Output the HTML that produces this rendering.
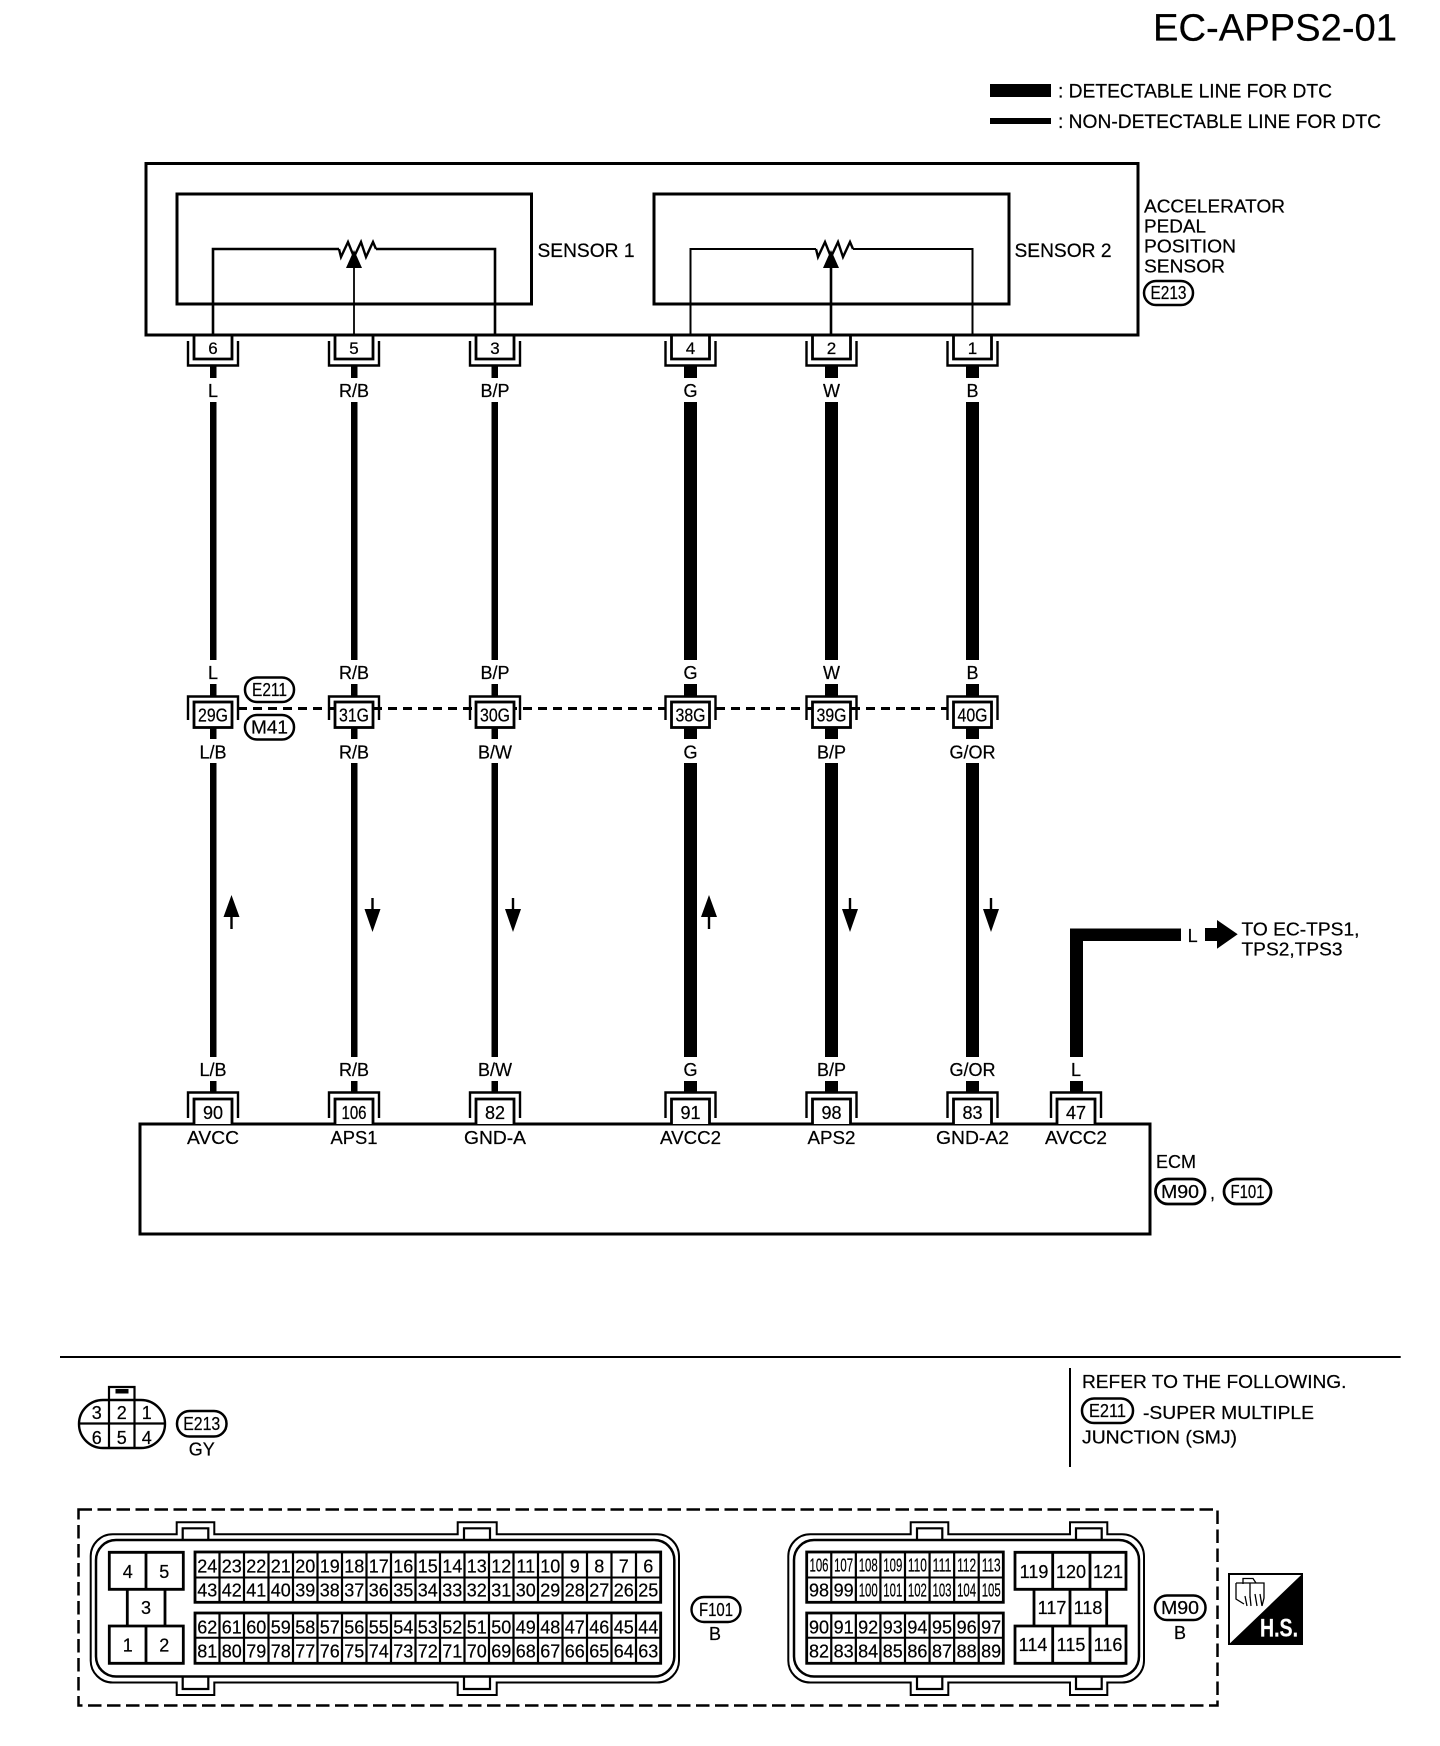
<!DOCTYPE html>
<html><head><meta charset="utf-8"><title>EC-APPS2-01</title>
<style>
html,body{margin:0;padding:0;background:#fff}
svg{display:block}
text{font-family:"Liberation Sans",Arial,sans-serif;fill:#000;stroke:#000;stroke-width:.22px}
.m{text-anchor:middle}
.f18{font-size:18px}.f17{font-size:17px}.f19{font-size:19px}
</style></head><body>
<svg width="1440" height="1746" viewBox="0 0 1440 1746" xmlns="http://www.w3.org/2000/svg">
<defs>
<g id="pt" fill="none" stroke="#000"><path d="M-19 335V359H19V335" stroke-width="2.8"/><path d="M-25 341V365.5H25V341" stroke-width="2.4"/></g>
<g id="pm" fill="none" stroke="#000"><rect x="-19" y="702" width="38" height="25.5" fill="#fff" stroke-width="2.8"/><path d="M-25 720V696.5H25V720" stroke-width="2.4"/></g>
<g id="pb" fill="none" stroke="#000"><path d="M-19 1124V1099H19V1124" fill="#fff" stroke-width="2.8"/><path d="M-25 1118V1092.5H25V1118" stroke-width="2.4"/></g>
<g id="res"><polyline points="339,249 341,257 348,242 354,257 361,242 366,257 373,242 376,249" fill="none" stroke="#000" stroke-width="2.4"/><polygon points="354,250 346,268 362,268" fill="#000"/></g>
<path id="aup" d="M-1.2 34V22H-8L0 0L8 22H1.2V34Z" fill="#000"/>
<path id="adn" d="M-1.2 0V11H-8L0 34L8 11H1.2V0Z" fill="#000"/>
</defs>

<!-- title + legend -->
<text x="1153" y="40.5" font-size="38" textLength="244" lengthAdjust="spacingAndGlyphs">EC-APPS2-01</text>
<rect x="990" y="84" width="61" height="13"/>
<rect x="990" y="118" width="61" height="6"/>
<text class="f19" x="1058" y="97.5" textLength="274" lengthAdjust="spacingAndGlyphs">: DETECTABLE LINE FOR DTC</text>
<text class="f19" x="1058" y="128" textLength="323" lengthAdjust="spacingAndGlyphs">: NON-DETECTABLE LINE FOR DTC</text>

<!-- sensor box -->
<rect x="146" y="163.5" width="992" height="171.5" fill="none" stroke="#000" stroke-width="3"/>
<rect x="177" y="194" width="354.5" height="110" fill="none" stroke="#000" stroke-width="3"/>
<rect x="654" y="194" width="355" height="110" fill="none" stroke="#000" stroke-width="3"/>
<path d="M213 335V249H339M376 249H495V335" fill="none" stroke="#000" stroke-width="2.6"/>
<path d="M354 335V262" fill="none" stroke="#000" stroke-width="1.8"/>
<use href="#res"/>
<path d="M690.5 335V249H816M853 249H972.5V335" fill="none" stroke="#000" stroke-width="2"/>
<path d="M831 335V262" fill="none" stroke="#000" stroke-width="2.6"/>
<use href="#res" x="477"/>
<text class="f19" x="537.5" y="257" textLength="97" lengthAdjust="spacingAndGlyphs">SENSOR 1</text>
<text class="f19" x="1014.5" y="257" textLength="97" lengthAdjust="spacingAndGlyphs">SENSOR 2</text>
<text class="f18" x="1144" y="212.5" textLength="141" lengthAdjust="spacingAndGlyphs">ACCELERATOR</text>
<text class="f18" x="1144" y="232.5" textLength="62" lengthAdjust="spacingAndGlyphs">PEDAL</text>
<text class="f18" x="1144" y="252.5" textLength="92" lengthAdjust="spacingAndGlyphs">POSITION</text>
<text class="f18" x="1144" y="272.5" textLength="81" lengthAdjust="spacingAndGlyphs">SENSOR</text>
<rect x="1144" y="281" width="49" height="24" rx="12" fill="#fff" stroke="#000" stroke-width="2.5"/>
<text class="f18 m" x="1168.5" y="299" textLength="36" lengthAdjust="spacingAndGlyphs">E213</text>

<!-- wires -->
<g fill="#000">
<rect x="210" y="366" width="6.5" height="12"/><rect x="210" y="402" width="6.5" height="258"/><rect x="210" y="684" width="6.5" height="12"/><rect x="210" y="727" width="6.5" height="12"/><rect x="210" y="763" width="6.5" height="294"/><rect x="210" y="1081" width="6.5" height="11"/>
<rect x="351" y="366" width="6.5" height="12"/><rect x="351" y="402" width="6.5" height="258"/><rect x="351" y="684" width="6.5" height="12"/><rect x="351" y="727" width="6.5" height="12"/><rect x="351" y="763" width="6.5" height="294"/><rect x="351" y="1081" width="6.5" height="11"/>
<rect x="491.5" y="366" width="6.5" height="12"/><rect x="491.5" y="402" width="6.5" height="258"/><rect x="491.5" y="684" width="6.5" height="12"/><rect x="491.5" y="727" width="6.5" height="12"/><rect x="491.5" y="763" width="6.5" height="294"/><rect x="491.5" y="1081" width="6.5" height="11"/>
<rect x="684" y="366" width="13" height="12"/><rect x="684" y="402" width="13" height="258"/><rect x="684" y="684" width="13" height="12"/><rect x="684" y="727" width="13" height="12"/><rect x="684" y="763" width="13" height="294"/><rect x="684" y="1081" width="13" height="11"/>
<rect x="825" y="366" width="13" height="12"/><rect x="825" y="402" width="13" height="258"/><rect x="825" y="684" width="13" height="12"/><rect x="825" y="727" width="13" height="12"/><rect x="825" y="763" width="13" height="294"/><rect x="825" y="1081" width="13" height="11"/>
<rect x="966" y="366" width="13" height="12"/><rect x="966" y="402" width="13" height="258"/><rect x="966" y="684" width="13" height="12"/><rect x="966" y="727" width="13" height="12"/><rect x="966" y="763" width="13" height="294"/><rect x="966" y="1081" width="13" height="11"/>
<rect x="1070" y="1081" width="13" height="11"/>
<path d="M1070 1057V928.5H1181V941H1083V1057Z"/>
<path d="M1205 928H1217V920L1237.7 934.3L1217 948.7V941H1205Z"/>
</g>
<text class="f18 m" x="1192.6" y="942">L</text>
<text class="f18" x="1241.5" y="935.5" textLength="118" lengthAdjust="spacingAndGlyphs">TO EC-TPS1,</text>
<text class="f18" x="1241.5" y="955.5" textLength="101" lengthAdjust="spacingAndGlyphs">TPS2,TPS3</text>

<!-- top connectors -->
<use href="#pt" x="213"/><use href="#pt" x="354"/><use href="#pt" x="495"/><use href="#pt" x="690.5"/><use href="#pt" x="831.5"/><use href="#pt" x="972.5"/>
<g class="f17 m">
<text x="213" y="354">6</text><text x="354" y="354">5</text><text x="495" y="354">3</text><text x="690.5" y="354">4</text><text x="831.5" y="354">2</text><text x="972.5" y="354">1</text>
</g>
<g class="f18 m">
<text x="213" y="397">L</text><text x="354" y="397">R/B</text><text x="495" y="397">B/P</text><text x="690.5" y="397">G</text><text x="831.5" y="397">W</text><text x="972.5" y="397">B</text>
<text x="213" y="679">L</text><text x="354" y="679">R/B</text><text x="495" y="679">B/P</text><text x="690.5" y="679">G</text><text x="831.5" y="679">W</text><text x="972.5" y="679">B</text>
<text x="213" y="758.5">L/B</text><text x="354" y="758.5">R/B</text><text x="495" y="758.5">B/W</text><text x="690.5" y="758.5">G</text><text x="831.5" y="758.5">B/P</text><text x="972.5" y="758.5">G/OR</text>
<text x="213" y="1076">L/B</text><text x="354" y="1076">R/B</text><text x="495" y="1076">B/W</text><text x="690.5" y="1076">G</text><text x="831.5" y="1076">B/P</text><text x="972.5" y="1076">G/OR</text><text x="1076" y="1076">L</text>
</g>

<!-- middle connectors + dashed link -->
<path d="M238 708.5H665" fill="none" stroke="#000" stroke-width="3" stroke-dasharray="9 6"/>
<path d="M716 708.5H947" fill="none" stroke="#000" stroke-width="3" stroke-dasharray="9 6"/>
<use href="#pm" x="213"/><use href="#pm" x="354"/><use href="#pm" x="495"/><use href="#pm" x="690.5"/><use href="#pm" x="831.5"/><use href="#pm" x="972.5"/>
<g class="f18 m">
<text x="213" y="721.5" textLength="30" lengthAdjust="spacingAndGlyphs">29G</text>
<text x="354" y="721.5" textLength="30" lengthAdjust="spacingAndGlyphs">31G</text>
<text x="495" y="721.5" textLength="30" lengthAdjust="spacingAndGlyphs">30G</text>
<text x="690.5" y="721.5" textLength="30" lengthAdjust="spacingAndGlyphs">38G</text>
<text x="831.5" y="721.5" textLength="30" lengthAdjust="spacingAndGlyphs">39G</text>
<text x="972.5" y="721.5" textLength="30" lengthAdjust="spacingAndGlyphs">40G</text>
</g>
<rect x="245" y="677.5" width="49" height="24.5" rx="12" fill="#fff" stroke="#000" stroke-width="2.5"/>
<text class="f18 m" x="269.5" y="696" textLength="35" lengthAdjust="spacingAndGlyphs">E211</text>
<rect x="245" y="715" width="49" height="24.5" rx="12" fill="#fff" stroke="#000" stroke-width="2.5"/>
<text class="f18 m" x="269.5" y="733.5" textLength="37" lengthAdjust="spacingAndGlyphs">M41</text>

<!-- direction arrows -->
<use href="#aup" x="231.5" y="895"/><use href="#adn" x="372.5" y="898"/><use href="#adn" x="513" y="898"/><use href="#aup" x="709" y="895"/><use href="#adn" x="850" y="898"/><use href="#adn" x="991" y="898"/>

<!-- ECM -->
<rect x="140" y="1124" width="1010" height="110" fill="none" stroke="#000" stroke-width="3"/>
<use href="#pb" x="213"/><use href="#pb" x="354"/><use href="#pb" x="495"/><use href="#pb" x="690.5"/><use href="#pb" x="831.5"/><use href="#pb" x="972.5"/><use href="#pb" x="1076"/>
<g class="f18 m">
<text x="213" y="1119">90</text>
<text x="354" y="1119" textLength="25" lengthAdjust="spacingAndGlyphs">106</text>
<text x="495" y="1119">82</text><text x="690.5" y="1119">91</text><text x="831.5" y="1119">98</text><text x="972.5" y="1119">83</text><text x="1076" y="1119">47</text>
<text x="213" y="1144" textLength="52" lengthAdjust="spacingAndGlyphs">AVCC</text>
<text x="354" y="1144" textLength="47" lengthAdjust="spacingAndGlyphs">APS1</text>
<text x="495" y="1144" textLength="62" lengthAdjust="spacingAndGlyphs">GND-A</text>
<text x="690.5" y="1144" textLength="61" lengthAdjust="spacingAndGlyphs">AVCC2</text>
<text x="831.5" y="1144" textLength="48" lengthAdjust="spacingAndGlyphs">APS2</text>
<text x="972.5" y="1144" textLength="73" lengthAdjust="spacingAndGlyphs">GND-A2</text>
<text x="1076" y="1144" textLength="62" lengthAdjust="spacingAndGlyphs">AVCC2</text>
</g>
<text class="f18" x="1156" y="1168">ECM</text>
<rect x="1155.5" y="1179" width="49.5" height="25" rx="12.5" fill="#fff" stroke="#000" stroke-width="2.8"/>
<text class="f18 m" x="1180" y="1198" textLength="38" lengthAdjust="spacingAndGlyphs">M90</text>
<text class="f18" x="1210" y="1199">,</text>
<rect x="1224" y="1179" width="47" height="25" rx="12.5" fill="#fff" stroke="#000" stroke-width="2.8"/>
<text class="f18 m" x="1247.5" y="1198" textLength="34" lengthAdjust="spacingAndGlyphs">F101</text>

<!-- separator -->
<rect x="60" y="1356" width="1340.7" height="2"/>
<rect x="1069" y="1368" width="2" height="99"/>
<text class="f18" x="1082" y="1388" textLength="264.5" lengthAdjust="spacingAndGlyphs">REFER TO THE FOLLOWING.</text>
<rect x="1082" y="1398.5" width="51" height="24.5" rx="12" fill="#fff" stroke="#000" stroke-width="2.5"/>
<text class="f18 m" x="1107.5" y="1417" textLength="37" lengthAdjust="spacingAndGlyphs">E211</text>
<text class="f18" x="1143" y="1419" textLength="171" lengthAdjust="spacingAndGlyphs">-SUPER MULTIPLE</text>
<text class="f18" x="1082" y="1443.5" textLength="155" lengthAdjust="spacingAndGlyphs">JUNCTION (SMJ)</text>

<!-- E213 connector -->
<rect x="79" y="1400" width="86" height="48" rx="24" fill="#fff" stroke="#000" stroke-width="2.4"/>
<path d="M79 1423.5H165M109 1400V1448M134.5 1400V1448M109 1400V1387H134.5V1400" fill="none" stroke="#000" stroke-width="2.2"/>
<rect x="115.5" y="1389" width="13" height="4.5"/>
<g class="f18 m">
<text x="96.7" y="1419">3</text><text x="121.7" y="1419">2</text><text x="146.7" y="1419">1</text>
<text x="96.7" y="1444">6</text><text x="121.7" y="1444">5</text><text x="146.7" y="1444">4</text>
</g>
<rect x="177" y="1411" width="49.5" height="25.5" rx="12.5" fill="#fff" stroke="#000" stroke-width="2.5"/>
<text class="f18 m" x="201.7" y="1430" textLength="37" lengthAdjust="spacingAndGlyphs">E213</text>
<text class="f18 m" x="201.7" y="1455.5">GY</text>

<!-- dashed frame -->
<rect x="78.5" y="1509.5" width="1139" height="196" fill="none" stroke="#000" stroke-width="2.5" stroke-dasharray="13.5 5.5"/>

<!-- F101 connector -->
<path d="M176.7 1534.3V1522.3H214.3V1534.3H457.7V1522.3H496.7V1534.3H657A22 22 0 0 1 679 1556V1660A22 22 0 0 1 657 1682.5H496.7V1695H457.7V1682.5H214.3V1695H176.7V1682.5H112.7A22 22 0 0 1 90.7 1660V1556A22 22 0 0 1 112.7 1534.3Z" fill="none" stroke="#000" stroke-width="2"/>
<rect x="96" y="1540" width="578.3" height="136.5" rx="20" fill="none" stroke="#000" stroke-width="2.5"/>
<path d="M182.7 1540V1528.3H208.3V1540M464 1540V1528.3H490V1540M182.7 1676.5V1689H208.3V1676.5M464 1676.5V1689H490V1676.5" fill="none" stroke="#000" stroke-width="2.2"/>
<g fill="none" stroke="#000" stroke-width="2.8">
<path d="M109.3 1552.3H183.3V1589.3H109.3ZM146 1552.3V1589.3M127.3 1589.3V1626M165 1589.3V1626M109.3 1626H183.3V1663.3H109.3ZM146 1626V1663.3"/>
<rect x="195" y="1552" width="465.7" height="50.3"/>
<rect x="195" y="1613" width="465.7" height="50.3"/>
<path d="M195 1577.5H660.7M195 1637.7H660.7" stroke-width="2"/>
<line x1="195" y1="1577" x2="660.7" y2="1577" stroke-width="50" stroke-dasharray="2.2 22.3" stroke-dashoffset="-23.4"/>
<line x1="195" y1="1638" x2="660.7" y2="1638" stroke-width="50" stroke-dasharray="2.2 22.3" stroke-dashoffset="-23.4"/>
</g>
<g class="f18 m">
<text x="127.7" y="1578">4</text><text x="164.3" y="1578">5</text><text x="146" y="1614">3</text><text x="127.7" y="1651.5">1</text><text x="164.3" y="1651.5">2</text>
</g>
<g class="f18 m">
<text x="207.25" y="1572.5">24</text><text x="231.75" y="1572.5">23</text><text x="256.25" y="1572.5">22</text><text x="280.75" y="1572.5">21</text><text x="305.25" y="1572.5">20</text><text x="329.75" y="1572.5">19</text><text x="354.25" y="1572.5">18</text><text x="378.75" y="1572.5">17</text><text x="403.25" y="1572.5">16</text><text x="427.75" y="1572.5">15</text><text x="452.25" y="1572.5">14</text><text x="476.75" y="1572.5">13</text><text x="501.25" y="1572.5">12</text><text x="525.75" y="1572.5">11</text><text x="550.25" y="1572.5">10</text><text x="574.75" y="1572.5">9</text><text x="599.25" y="1572.5">8</text><text x="623.75" y="1572.5">7</text><text x="648.25" y="1572.5">6</text>
<text x="207.25" y="1596.5">43</text><text x="231.75" y="1596.5">42</text><text x="256.25" y="1596.5">41</text><text x="280.75" y="1596.5">40</text><text x="305.25" y="1596.5">39</text><text x="329.75" y="1596.5">38</text><text x="354.25" y="1596.5">37</text><text x="378.75" y="1596.5">36</text><text x="403.25" y="1596.5">35</text><text x="427.75" y="1596.5">34</text><text x="452.25" y="1596.5">33</text><text x="476.75" y="1596.5">32</text><text x="501.25" y="1596.5">31</text><text x="525.75" y="1596.5">30</text><text x="550.25" y="1596.5">29</text><text x="574.75" y="1596.5">28</text><text x="599.25" y="1596.5">27</text><text x="623.75" y="1596.5">26</text><text x="648.25" y="1596.5">25</text>
<text x="207.25" y="1633.5">62</text><text x="231.75" y="1633.5">61</text><text x="256.25" y="1633.5">60</text><text x="280.75" y="1633.5">59</text><text x="305.25" y="1633.5">58</text><text x="329.75" y="1633.5">57</text><text x="354.25" y="1633.5">56</text><text x="378.75" y="1633.5">55</text><text x="403.25" y="1633.5">54</text><text x="427.75" y="1633.5">53</text><text x="452.25" y="1633.5">52</text><text x="476.75" y="1633.5">51</text><text x="501.25" y="1633.5">50</text><text x="525.75" y="1633.5">49</text><text x="550.25" y="1633.5">48</text><text x="574.75" y="1633.5">47</text><text x="599.25" y="1633.5">46</text><text x="623.75" y="1633.5">45</text><text x="648.25" y="1633.5">44</text>
<text x="207.25" y="1657.7">81</text><text x="231.75" y="1657.7">80</text><text x="256.25" y="1657.7">79</text><text x="280.75" y="1657.7">78</text><text x="305.25" y="1657.7">77</text><text x="329.75" y="1657.7">76</text><text x="354.25" y="1657.7">75</text><text x="378.75" y="1657.7">74</text><text x="403.25" y="1657.7">73</text><text x="427.75" y="1657.7">72</text><text x="452.25" y="1657.7">71</text><text x="476.75" y="1657.7">70</text><text x="501.25" y="1657.7">69</text><text x="525.75" y="1657.7">68</text><text x="550.25" y="1657.7">67</text><text x="574.75" y="1657.7">66</text><text x="599.25" y="1657.7">65</text><text x="623.75" y="1657.7">64</text><text x="648.25" y="1657.7">63</text>
</g>
<rect x="691.5" y="1597" width="49" height="25" rx="12.5" fill="#fff" stroke="#000" stroke-width="2.4"/>
<text class="f18 m" x="716" y="1616" textLength="34" lengthAdjust="spacingAndGlyphs">F101</text>
<text class="f18 m" x="715" y="1640">B</text>

<!-- M90 connector -->
<path d="M910.7 1534.3V1522.3H948.3V1534.3H1070V1522.3H1107.3V1534.3H1122A22 22 0 0 1 1144 1556V1660A22 22 0 0 1 1122 1682.5H1107.3V1695H1070V1682.5H948.3V1695H910.7V1682.5H810.3A22 22 0 0 1 788.3 1660V1556A22 22 0 0 1 810.3 1534.3Z" fill="none" stroke="#000" stroke-width="2"/>
<rect x="794" y="1540" width="345" height="136.5" rx="20" fill="none" stroke="#000" stroke-width="2.5"/>
<path d="M917 1540V1528.3H942.3V1540M1076 1540V1528.3H1101.7V1540M917 1676.5V1689H942.3V1676.5M1076 1676.5V1689H1101.7V1676.5" fill="none" stroke="#000" stroke-width="2.2"/>
<g fill="none" stroke="#000" stroke-width="2.8">
<rect x="806.7" y="1552" width="196.6" height="50.3"/>
<rect x="806.7" y="1613" width="196.6" height="50.3"/>
<path d="M806.7 1577.5H1003.3M806.7 1637.7H1003.3" stroke-width="2"/>
<line x1="806.7" y1="1577" x2="1003.3" y2="1577" stroke-width="50" stroke-dasharray="2.2 22.375" stroke-dashoffset="-23.475"/>
<line x1="806.7" y1="1638" x2="1003.3" y2="1638" stroke-width="50" stroke-dasharray="2.2 22.375" stroke-dashoffset="-23.475"/>
<path d="M1015 1552.3H1126V1589.3H1015ZM1052.7 1552.3V1589.3M1090 1552.3V1589.3M1034 1589.3V1626M1106.7 1589.3V1626M1070 1589.3V1626M1015 1626H1126V1663.3H1015ZM1052.7 1626V1663.3M1090 1626V1663.3"/>
</g>
<g class="f18 m">
<text x="819" y="1571.5" textLength="19" lengthAdjust="spacingAndGlyphs">106</text><text x="843.6" y="1571.5" textLength="19" lengthAdjust="spacingAndGlyphs">107</text><text x="868.2" y="1571.5" textLength="19" lengthAdjust="spacingAndGlyphs">108</text><text x="892.8" y="1571.5" textLength="19" lengthAdjust="spacingAndGlyphs">109</text><text x="917.4" y="1571.5" textLength="19" lengthAdjust="spacingAndGlyphs">110</text><text x="942" y="1571.5" textLength="19" lengthAdjust="spacingAndGlyphs">111</text><text x="966.6" y="1571.5" textLength="19" lengthAdjust="spacingAndGlyphs">112</text><text x="991.2" y="1571.5" textLength="19" lengthAdjust="spacingAndGlyphs">113</text>
<text x="819" y="1596.5">98</text><text x="843.6" y="1596.5">99</text><text x="868.2" y="1596.5" textLength="19" lengthAdjust="spacingAndGlyphs">100</text><text x="892.8" y="1596.5" textLength="19" lengthAdjust="spacingAndGlyphs">101</text><text x="917.4" y="1596.5" textLength="19" lengthAdjust="spacingAndGlyphs">102</text><text x="942" y="1596.5" textLength="19" lengthAdjust="spacingAndGlyphs">103</text><text x="966.6" y="1596.5" textLength="19" lengthAdjust="spacingAndGlyphs">104</text><text x="991.2" y="1596.5" textLength="19" lengthAdjust="spacingAndGlyphs">105</text>
<text x="819" y="1633.5">90</text><text x="843.6" y="1633.5">91</text><text x="868.2" y="1633.5">92</text><text x="892.8" y="1633.5">93</text><text x="917.4" y="1633.5">94</text><text x="942" y="1633.5">95</text><text x="966.6" y="1633.5">96</text><text x="991.2" y="1633.5">97</text>
<text x="819" y="1657.7">82</text><text x="843.6" y="1657.7">83</text><text x="868.2" y="1657.7">84</text><text x="892.8" y="1657.7">85</text><text x="917.4" y="1657.7">86</text><text x="942" y="1657.7">87</text><text x="966.6" y="1657.7">88</text><text x="991.2" y="1657.7">89</text>
<text x="1034" y="1578">119</text><text x="1071" y="1578">120</text><text x="1108" y="1578">121</text>
<text x="1052" y="1614">117</text><text x="1088" y="1614">118</text>
<text x="1033" y="1651">114</text><text x="1071" y="1651">115</text><text x="1108" y="1651">116</text>
</g>
<rect x="1155" y="1595.5" width="50.5" height="24.5" rx="12" fill="#fff" stroke="#000" stroke-width="2.5"/>
<text class="f18 m" x="1180" y="1614" textLength="38" lengthAdjust="spacingAndGlyphs">M90</text>
<text class="f18 m" x="1180" y="1639">B</text>

<!-- H.S. icon -->
<rect x="1229" y="1574" width="73" height="70" fill="#fff" stroke="#000" stroke-width="2"/>
<polygon points="1302.7,1573.5 1302.7,1644.3 1229,1644.3"/>
<path d="M1236 1583H1264V1598L1262 1606M1236 1583V1599L1244 1604M1243 1584V1578.5H1253L1256 1583M1250 1583V1598M1245 1596L1247 1606M1250 1596L1251 1606M1255 1594L1257 1606M1260 1594L1262 1606" fill="none" stroke="#000" stroke-width="1.3"/>
<text x="1260" y="1636.5" font-size="25" font-weight="bold" style="fill:#fff;stroke:#fff" textLength="38" lengthAdjust="spacingAndGlyphs">H.S.</text>
</svg>
</body></html>
